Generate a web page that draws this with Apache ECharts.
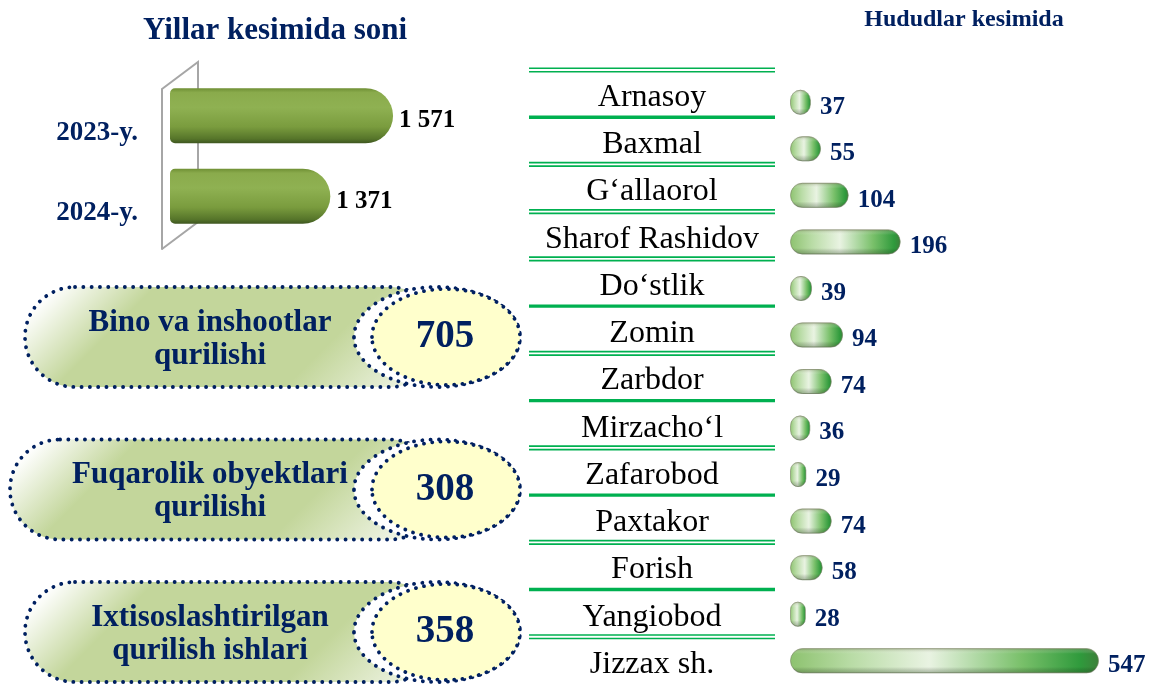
<!DOCTYPE html>
<html>
<head>
<meta charset="utf-8">
<title>Qurilish ishlari</title>
<script src="https://cdn.jsdelivr.net/npm/echarts@6/dist/echarts.min.js"></script>
<style>
  html, body { margin: 0; padding: 0; background: #fff; }
  #chart { width: 1149px; height: 684px; }
</style>
</head>
<body>
<div id="chart"></div>
<script>
// yillar kesimida
const yearNames = ['2023-y.', '2024-y.'];
const yearValues = [1571, 1371];

// ish turlari
const workNames = ['Bino va inshootlar\nqurilishi', 'Fuqarolik obyektlari\nqurilishi', 'Ixtisoslashtirilgan\nqurilish ishlari'];
const workValues = [705, 308, 358];

// hududlar kesimida
const regionNames = ['Arnasoy', 'Baxmal', 'G‘allaorol', 'Sharof Rashidov', 'Do‘stlik', 'Zomin', 'Zarbdor',
  'Mirzacho‘l', 'Zafarobod', 'Paxtakor', 'Forish', 'Yangiobod', 'Jizzax sh.'];
const regionValues = [37, 55, 104, 196, 39, 94, 74, 36, 29, 74, 58, 28, 547];

// jadvaldagi chiziq turi (har bir qator ostida)
const rowLines = ['thick', 'double', 'double', 'double', 'thick', 'double', 'thick', 'double', 'thick', 'double', 'thick', 'double', 'none'];

// ovallarning joylashuvi: markaz y va chap chekka
const badgeLayout = [[337, 25], [489.5, 10], [632, 25]];

const NAVY = '#002060';
const GREEN = '#00b050';
const FONT = '"Liberation Serif", "Times New Roman", serif';

const chart = echarts.init(document.getElementById('chart'));

function spaced(v) {
  return String(v).replace(/\B(?=(\d{3})+(?!\d))/g, ' ');
}

function dotted(fill) {
  return { fill: fill, stroke: NAVY, lineWidth: 3.8, lineDash: [0.1, 8.2], lineCap: 'round' };
}

function badge(i) {
  const cy = badgeLayout[i][0], left = badgeLayout[i][1];
  const top = cy - 50;
  const grad = new echarts.graphic.LinearGradient(left + 30, top, left + 280, top + 250, [
    { offset: 0, color: '#ffffff' },
    { offset: 0.2, color: '#c3d69b' },
    { offset: 0.66, color: '#c3d69b' },
    { offset: 1, color: '#ffffff' }
  ], true);
  return [
    { type: 'rect', z: 1, shape: { x: left, y: top, width: 440 - left, height: 100, r: 50 }, style: dotted(grad) },
    { type: 'ellipse', z: 2, shape: { cx: 437, cy: cy, rx: 83, ry: 50 }, style: dotted('#ffffff') },
    { type: 'ellipse', z: 3, shape: { cx: 446, cy: cy, rx: 74, ry: 48 }, style: dotted('#ffffcc') },
    {
      type: 'text', z: 4, x: 210, y: cy + 2,
      style: {
        text: workNames[i], font: 'bold 31px ' + FONT, fill: NAVY, lineHeight: 33,
        textAlign: 'center', align: 'center', textVerticalAlign: 'middle', verticalAlign: 'middle'
      }
    },
    {
      type: 'text', z: 4, x: 445, y: cy,
      style: {
        text: String(workValues[i]), font: 'bold 39px ' + FONT, fill: NAVY,
        textAlign: 'center', align: 'center', textVerticalAlign: 'middle', verticalAlign: 'middle'
      }
    }
  ];
}

let graphics = [
  {
    type: 'text', x: 275, y: 31,
    style: { text: 'Yillar kesimida soni', font: 'bold 31px ' + FONT, fill: NAVY,
      textAlign: 'center', align: 'center', textVerticalAlign: 'middle', verticalAlign: 'middle' }
  },
  {
    type: 'text', x: 964, y: 20,
    style: { text: 'Hududlar kesimida', font: 'bold 24px ' + FONT, fill: NAVY,
      textAlign: 'center', align: 'center', textVerticalAlign: 'middle', verticalAlign: 'middle' }
  },
  {
    // 3D ramka orqa devori
    type: 'polyline', z: 0,
    shape: { points: [[162, 89], [198, 62], [198, 222], [162, 249]] },
    style: { fill: null, stroke: '#a6a6a6', lineWidth: 2 }
  }
];
workNames.forEach((n, i) => { graphics = graphics.concat(badge(i)); });

const option = {
  animation: false,
  backgroundColor: '#fff',
  textStyle: { fontFamily: FONT },
  graphic: { elements: graphics },
  grid: [
    { left: 162, top: 89, width: 240, height: 160 },      // old o'q
    { left: 170, top: 75.5, width: 240, height: 161 },    // ustunlar
    { left: 529, top: 70, width: 246, height: 618.5 },    // jadval
    { left: 790, top: 79, width: 339, height: 612 }       // hududlar
  ],
  xAxis: [
    { gridIndex: 0, type: 'value', show: false },
    { gridIndex: 1, type: 'value', show: false, min: 860, max: 1625 },
    { gridIndex: 2, type: 'value', show: false, min: 0, max: 1 },
    { gridIndex: 3, type: 'value', show: false, min: 0, max: 600 }
  ],
  yAxis: [
    {
      gridIndex: 0, type: 'category', inverse: true, data: yearNames,
      axisLine: { lineStyle: { color: '#a6a6a6', width: 2 } },
      axisTick: { length: 7, lineStyle: { color: '#a6a6a6', width: 2 } },
      axisLabel: {
        interval: 0, margin: 24,
        formatter: v => '{a|' + v + '}',
        rich: { a: { padding: [9, 0, 0, 0], color: NAVY, fontWeight: 'bold', fontSize: 27, fontFamily: FONT } }
      }
    },
    { gridIndex: 1, type: 'category', inverse: true, data: yearNames, show: false },
    { gridIndex: 2, type: 'category', inverse: true, data: regionNames, show: false },
    { gridIndex: 3, type: 'category', inverse: true, data: regionNames, show: false }
  ],
  series: [
    {
      type: 'bar', xAxisIndex: 1, yAxisIndex: 1, data: yearValues, barWidth: 55,
      itemStyle: {
        borderRadius: [5, 28, 28, 5],
        color: new echarts.graphic.LinearGradient(0, 0, 0, 1, [
          { offset: 0, color: '#6f8f34' },
          { offset: 0.08, color: '#8aab4c' },
          { offset: 0.35, color: '#8fb152' },
          { offset: 0.7, color: '#7a9c3e' },
          { offset: 0.92, color: '#56752a' },
          { offset: 1, color: '#3e5620' }
        ])
      },
      label: {
        show: true, position: 'right', distance: 6, offset: [0, 5],
        color: '#000', fontWeight: 'bold', fontSize: 25, fontFamily: FONT,
        formatter: p => spaced(p.value)
      }
    },
    {
      // jadval: nomlar va yashil chiziqlar
      type: 'custom', xAxisIndex: 2, yAxisIndex: 2, silent: true,
      data: regionNames.map((n, i) => [0, i]),
      renderItem: function (params, api) {
        const i = api.value(1);
        const c = api.coord([0, i]);
        const h = api.size([0, 1])[1];
        const cs = params.coordSys;
        const children = [{
          type: 'text',
          style: {
            text: regionNames[i], x: cs.x + cs.width / 2, y: c[1] + 4,
            font: '32px ' + FONT, fill: '#000',
            textAlign: 'center', align: 'center', textVerticalAlign: 'middle', verticalAlign: 'middle'
          }
        }];
        function addLine(y, kind) {
          if (kind === 'thick') {
            children.push({ type: 'rect', shape: { x: cs.x, y: y - 1.7, width: cs.width, height: 3.4 }, style: { fill: GREEN } });
          } else if (kind === 'double') {
            children.push({ type: 'rect', shape: { x: cs.x, y: y - 2.6, width: cs.width, height: 1.7 }, style: { fill: GREEN } });
            children.push({ type: 'rect', shape: { x: cs.x, y: y + 0.9, width: cs.width, height: 1.7 }, style: { fill: GREEN } });
          }
        }
        if (i === 0) addLine(c[1] - h / 2, 'double');
        addLine(c[1] + h / 2, rowLines[i]);
        return { type: 'group', children: children };
      }
    },
    {
      type: 'bar', xAxisIndex: 3, yAxisIndex: 3, data: regionValues, barWidth: 25,
      itemStyle: {
        borderRadius: 12,
        borderColor: 'rgba(120,130,100,0.6)', borderWidth: 1,
        color: new echarts.graphic.LinearGradient(0, 0, 1, 0, [
          { offset: 0, color: '#8dc26f' },
          { offset: 0.2, color: '#b9dca6' },
          { offset: 0.45, color: '#e9f3e2' },
          { offset: 0.75, color: '#79c06a' },
          { offset: 0.94, color: '#2f9a3c' },
          { offset: 1, color: '#3d7f3a' }
        ])
      },
      label: {
        show: true, position: 'right', distance: 9, offset: [0, 5],
        color: NAVY, fontWeight: 'bold', fontSize: 25, fontFamily: FONT
      }
    },
    {
      // soya qatlami
      type: 'bar', xAxisIndex: 3, yAxisIndex: 3, data: regionValues, barWidth: 25, barGap: '-100%', silent: true,
      itemStyle: {
        borderRadius: 12,
        color: new echarts.graphic.LinearGradient(0, 0, 0, 1, [
          { offset: 0, color: 'rgba(110,120,80,0.45)' },
          { offset: 0.22, color: 'rgba(255,255,255,0)' },
          { offset: 0.75, color: 'rgba(0,0,0,0)' },
          { offset: 1, color: 'rgba(40,70,30,0.35)' }
        ])
      }
    }
  ]
};

chart.setOption(option);
</script>
</body>
</html>
